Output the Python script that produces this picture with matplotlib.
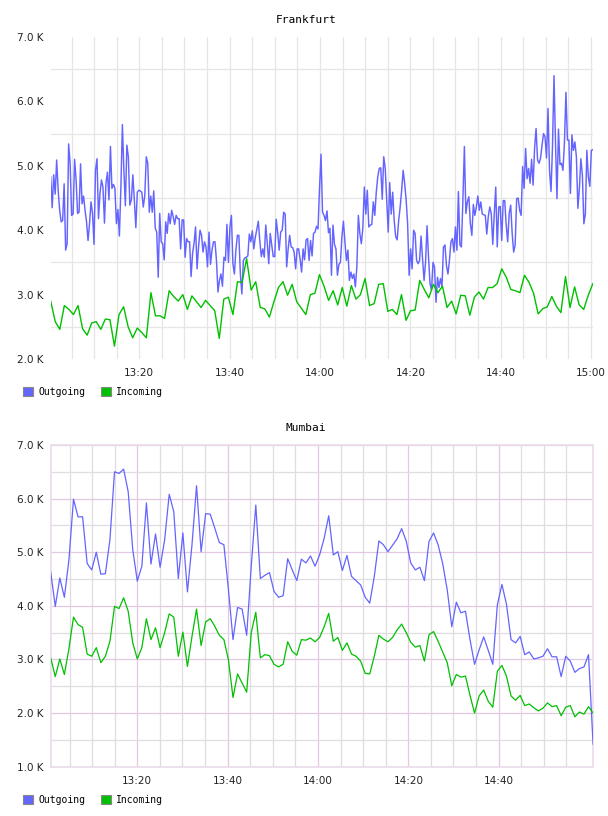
import matplotlib
matplotlib.use("Agg")
import matplotlib.pyplot as plt
import numpy as np
from matplotlib.patches import Patch
from matplotlib.ticker import FixedLocator, FuncFormatter

# ---------------- data (values in thousands) ----------------
frankfurt_outgoing = [
    4.83,4.35,4.86,4.56,5.09,4.62,4.31,4.13,4.15,4.72,3.69,3.79,5.34,5.04,4.23,4.25,5.10,4.78,4.26,4.28,
    5.03,4.41,4.53,4.31,4.13,3.84,4.10,4.44,4.26,3.78,4.93,5.11,4.18,4.57,4.78,4.67,4.11,4.73,4.90,4.47,
    5.30,4.65,4.71,4.65,4.10,4.32,3.91,4.67,5.64,4.93,4.38,5.32,5.14,4.39,4.47,4.86,4.47,4.04,4.59,4.62,
    4.61,4.59,4.36,4.54,5.14,5.04,4.28,4.53,4.28,4.61,4.03,3.97,3.27,4.26,3.82,3.79,3.54,4.13,3.95,4.26,
    4.10,4.31,4.21,4.09,4.23,4.18,4.18,3.71,4.16,4.16,
    3.58,3.87,3.82,3.82,3.28,3.64,3.80,4.05,3.40,3.74,4.00,3.92,3.66,3.82,3.74,3.43,3.97,3.47,3.69,3.82,
    3.82,3.53,3.04,3.22,3.32,3.13,3.58,3.53,4.09,3.50,4.05,4.23,3.48,3.32,3.69,3.92,3.92,3.32,3.01,3.53,
    3.57,3.58,3.60,3.94,3.82,3.99,3.71,3.89,4.01,4.14,3.84,3.59,3.71,3.58,4.08,3.80,3.48,3.95,3.77,3.59,
    3.59,4.17,3.96,3.69,3.97,4.00,4.28,4.25,3.43,3.71,3.92,3.74,3.73,3.66,3.40,3.71,3.71,3.55,3.35,3.71,
    3.54,3.85,3.87,3.53,3.84,3.60,3.95,3.97,4.06,4.02,4.65,5.18,4.28,
    4.23,4.15,4.30,3.96,4.03,3.30,4.08,3.78,3.71,3.30,3.47,3.50,3.90,4.14,3.82,3.53,3.69,3.22,3.35,3.25,
    3.32,3.12,3.43,4.23,3.95,3.79,4.03,4.67,4.25,4.62,4.05,4.08,4.09,4.44,4.23,4.59,4.83,4.96,4.97,4.48,
    5.14,4.96,4.47,3.97,4.74,4.25,4.59,4.15,3.90,3.85,4.15,4.36,4.62,4.93,4.73,4.47,4.10,3.30,3.71,3.40,
    4.00,3.95,3.53,3.48,3.53,3.91,3.55,3.22,3.50,4.07,3.58,3.17,3.07,3.50,3.43,2.88,3.27,3.11,3.25,3.12,
    3.74,3.77,3.45,3.32,3.53,3.82,3.87,3.66,4.05,3.69,4.60,3.77,3.74,4.47,5.30,
    4.26,4.44,4.52,4.10,3.92,4.40,4.23,4.36,4.53,4.31,4.44,4.25,4.24,4.23,3.94,4.21,4.36,4.26,3.78,4.25,
    4.67,3.74,4.36,4.37,3.84,4.46,4.46,4.08,3.82,4.26,4.39,3.95,3.66,3.77,4.49,4.50,4.31,4.23,4.99,4.65,
    5.27,4.80,4.96,4.73,5.10,4.70,5.27,5.58,5.09,5.04,5.12,5.32,5.50,5.45,5.12,5.89,4.93,4.60,5.30,6.40,
    5.37,4.49,5.57,5.02,5.04,4.93,5.36,6.14,5.40,5.40,4.57,5.48,5.24,5.37,5.14,4.34,4.65,5.11,4.86,4.10,
    4.25,5.24,4.83,4.68,5.24,5.25,
]
frankfurt_incoming = [
    2.90,2.58,2.46,2.83,2.77,2.69,2.83,2.47,2.37,2.56,2.58,2.46,2.62,2.61,2.20,2.69,2.81,2.50,2.33,2.48,
    2.41,2.33,3.03,2.67,2.67,2.63,3.06,2.97,2.90,3.00,2.77,2.98,2.89,2.80,2.91,2.83,2.75,2.32,2.93,2.96,
    2.69,3.20,3.19,3.56,3.07,3.20,2.80,2.78,2.65,2.89,3.11,3.20,2.99,3.16,2.89,2.79,2.69,3.00,3.02,3.31,
    3.13,2.91,3.06,2.84,3.11,2.82,3.14,2.93,3.00,3.25,2.83,2.86,3.16,3.17,2.74,2.77,2.69,3.00,2.60,2.75,
    2.76,3.22,3.08,2.95,3.16,3.03,3.13,2.80,2.90,2.70,2.99,2.98,2.68,2.96,3.04,2.93,3.11,3.11,3.17,3.40,
    3.27,3.08,3.06,3.03,3.30,3.19,3.02,2.70,2.78,2.81,2.97,2.82,2.72,3.28,2.80,3.12,2.84,2.77,2.99,3.17,
]
mumbai_outgoing = [
    4.63,3.99,4.52,4.16,4.86,5.99,5.66,5.66,4.79,4.67,5.00,4.59,4.60,5.24,6.50,6.47,6.55,6.13,5.05,4.46,
    4.74,5.92,4.78,5.34,4.72,5.23,6.08,5.76,4.51,5.36,4.26,5.14,6.24,5.01,5.72,5.71,5.45,5.18,5.14,4.30,
    3.37,3.97,3.94,3.45,4.74,5.88,4.51,4.57,4.62,4.27,4.16,4.19,4.88,4.67,4.47,4.87,4.80,4.93,4.74,4.95,
    5.26,5.68,4.95,5.01,4.66,4.94,4.55,4.47,4.39,4.16,4.05,4.55,5.21,5.14,5.01,5.13,5.25,5.44,5.21,4.80,
    4.67,4.72,4.47,5.20,5.36,5.14,4.79,4.30,3.61,4.07,3.87,3.90,3.37,2.91,3.18,3.42,3.17,2.91,4.02,4.40,
    4.03,3.37,3.31,3.43,3.09,3.14,3.01,3.03,3.06,3.20,3.05,3.05,2.68,3.06,2.97,2.76,2.83,2.86,3.09,1.42,
]
mumbai_incoming = [
    3.03,2.68,3.01,2.72,3.20,3.79,3.65,3.60,3.10,3.06,3.22,2.94,3.06,3.34,3.99,3.95,4.15,3.90,3.31,3.01,
    3.22,3.76,3.37,3.59,3.22,3.50,3.85,3.79,3.06,3.51,2.87,3.43,3.94,3.26,3.70,3.76,3.62,3.45,3.37,2.99,
    2.29,2.73,2.56,2.39,3.50,3.88,3.03,3.09,3.07,2.91,2.86,2.91,3.33,3.15,3.08,3.37,3.36,3.40,3.33,3.41,
    3.61,3.86,3.34,3.41,3.17,3.31,3.10,3.06,2.97,2.74,2.73,3.06,3.45,3.38,3.33,3.41,3.55,3.66,3.50,3.32,
    3.23,3.26,2.97,3.46,3.52,3.34,3.14,2.94,2.51,2.72,2.67,2.69,2.33,2.00,2.32,2.43,2.22,2.11,2.78,2.89,
    2.69,2.32,2.24,2.33,2.14,2.17,2.10,2.04,2.09,2.19,2.12,2.14,1.95,2.11,2.14,1.93,2.02,1.98,2.12,2.00,
]
series_labels = ["Outgoing", "Incoming"]
titles = ["Frankfurt", "Mumbai"]
x_tick_minutes = [20, 40, 60, 80, 100, 120]   # minutes after 13:00

# time span (minutes after 13:00) covered by each series
frankfurt_span = (0.39, 120.40)
mumbai_span = (0.83, 120.90)

BLUE = "#6464ff"
GREEN = "#00c000"

W, H = 608, 816
fig = plt.figure(figsize=(W / 100, H / 100), dpi=100)


def axes_px(l, t, r, b):
    return fig.add_axes([l / W, 1 - b / H, (r - l) / W, (b - t) / H])


def fmt_time(m, pos=None):
    m = int(round(m))
    return f"{13 + m // 60}:{m % 60:02d}"


def fmt_k(v, pos=None):
    return f"{v:.1f} K"


TICKFONT = dict(family="DejaVu Sans", size=7.5)

# ---------------- Frankfurt ----------------
ax1 = axes_px(50.7, 37, 593, 359)
x = np.linspace(*frankfurt_span, len(frankfurt_outgoing))
ax1.plot(x, frankfurt_outgoing, color=BLUE, lw=1.05, zorder=3)
x = np.linspace(*frankfurt_span, len(frankfurt_incoming))
ax1.plot(x, frankfurt_incoming, color=GREEN, lw=1.0, zorder=3)
ax1.set_xlim(0.39, 120.44)
ax1.set_ylim(2, 7)
ax1.set_yticks(np.arange(2, 7.01, 1.0))
ax1.yaxis.set_major_formatter(FuncFormatter(fmt_k))
ax1.yaxis.set_minor_locator(FixedLocator(np.arange(2.5, 7, 1.0)))
ax1.set_xticks([m for m in x_tick_minutes if m <= 120])
ax1.xaxis.set_major_formatter(FuncFormatter(fmt_time))
ax1.xaxis.set_minor_locator(FixedLocator([m for m in range(5, 121, 5) if m % 20]))
ax1.grid(which="both", axis="x", color="#e6e6e6", lw=0.9)
ax1.grid(which="minor", axis="y", color="#e6e6e6", lw=0.9)
ax1.set_axisbelow(True)
for s in ax1.spines.values():
    s.set_visible(False)
ax1.tick_params(which="both", length=0)
ax1.tick_params(axis="y", pad=5.0, labelcolor="#222222")
ax1.tick_params(axis="x", pad=6.3, labelcolor="#222222")
for lab in ax1.get_xticklabels() + ax1.get_yticklabels():
    lab.set_fontfamily(TICKFONT["family"])
    lab.set_fontsize(TICKFONT["size"])
fig.text(306 / W, 1 - 20 / H, titles[0], family="DejaVu Sans Mono", size=8,
         ha="center", va="center")

# ---------------- Mumbai ----------------
ax2 = axes_px(50.7, 445, 593.3, 766.7)
x = np.linspace(*mumbai_span, len(mumbai_outgoing))
ax2.plot(x, mumbai_outgoing, color=BLUE, lw=0.9, zorder=3)
x = np.linspace(*mumbai_span, len(mumbai_incoming))
ax2.plot(x, mumbai_incoming, color=GREEN, lw=0.9, zorder=3)
ax2.set_xlim(0.83, 120.95)
ax2.set_ylim(1, 7)
ax2.set_yticks(np.arange(1, 7.01, 1.0))
ax2.yaxis.set_major_formatter(FuncFormatter(fmt_k))
ax2.yaxis.set_minor_locator(FixedLocator(np.arange(1.5, 7, 1.0)))
ax2.set_xticks([m for m in x_tick_minutes if m < 120])
ax2.xaxis.set_major_formatter(FuncFormatter(fmt_time))
ax2.xaxis.set_minor_locator(FixedLocator([m for m in range(5, 120, 5) if m % 20]))
ax2.grid(which="major", color="#e2c8e2", lw=0.9)
ax2.grid(which="minor", color="#e0dce0", lw=0.9)
ax2.set_axisbelow(True)
for s in ax2.spines.values():
    s.set_color("#eadcea")
    s.set_linewidth(1.2)
ax2.tick_params(which="both", length=0)
ax2.tick_params(axis="y", pad=5.0, labelcolor="#222222")
ax2.tick_params(axis="x", pad=6.8, labelcolor="#222222")
for lab in ax2.get_xticklabels() + ax2.get_yticklabels():
    lab.set_fontfamily(TICKFONT["family"])
    lab.set_fontsize(TICKFONT["size"])
fig.text(306 / W, 1 - 428 / H, titles[1], family="DejaVu Sans Mono", size=8,
         ha="center", va="center")

# ---------------- legends ----------------
for ypx in (392, 800):
    handles = [Patch(facecolor=BLUE, edgecolor="#888888", lw=0.8),
               Patch(facecolor=GREEN, edgecolor="#888888", lw=0.8)]
    fig.legend(handles, series_labels, loc="center left",
               bbox_to_anchor=(23 / W, 1 - ypx / H), ncol=2, frameon=False,
               prop=dict(family="DejaVu Sans Mono", size=7),
               handlelength=1.05, handleheight=1.05, handletextpad=0.5,
               columnspacing=1.6, borderpad=0, borderaxespad=0)

fig.savefig("out.png", dpi=100)
